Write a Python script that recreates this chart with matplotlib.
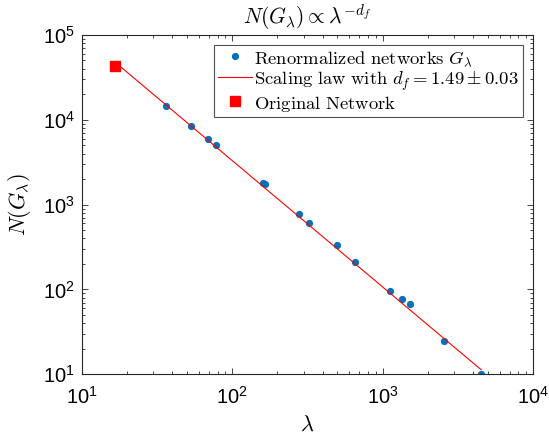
import numpy as np
import matplotlib
matplotlib.use('Agg')
import matplotlib.pyplot as plt
from matplotlib.ticker import LogLocator, FuncFormatter, NullFormatter

plt.rcParams['font.family'] = ['Liberation Sans', 'DejaVu Sans']
plt.rcParams['mathtext.fontset'] = 'custom'
plt.rcParams['mathtext.rm'] = 'Liberation Sans'
plt.rcParams['mathtext.it'] = 'Liberation Sans:italic'

# renormalized networks: box size lambda vs number of boxes N(G_lambda)
lam = [36.2, 53, 68.9, 77.9, 160, 165, 278, 324, 497, 655, 1119, 1346, 1521, 2558, 4520]
n_boxes = [14600, 8500, 5970, 5080, 1790, 1760, 783, 614, 338, 213, 97, 78, 67, 25, 10]

# original network
lam0 = [16.75]
n0 = [43200]

# fitted scaling law
d_f = 1.49
d_f_err = 0.03
log_prefactor = 6.50
lam_fit = np.array([lam0[0], lam[-1]])
n_fit = 10 ** log_prefactor * lam_fit ** (-d_f)

fig = plt.figure(figsize=(5.49, 4.37), dpi=100)
ax = fig.add_axes([0.1488, 0.1435, 0.8221, 0.7765])

ax.plot(lam, n_boxes, 'o', color='#0072BD', markersize=4.2, linestyle='none',
        label=r'$\mathrm{Renormalized\ networks}\ G_\lambda$')
ax.plot(lam_fit, n_fit, '-', color='red', linewidth=0.8,
        label=r'$\mathrm{Scaling\ law\ with}\ d_f = %.2f \pm %.2f$' % (d_f, d_f_err))
ax.plot(lam0, n0, 's', color='red', markersize=6.5, linestyle='none',
        label=r'$\mathrm{Original\ Network}$')

ax.set_xscale('log')
ax.set_yscale('log')
ax.set_xlim(10, 1e4)
ax.set_ylim(10, 1e5)

def pow_label(v, pos):
    return r'$10^{%d}$' % int(round(np.log10(v)))

for axis in (ax.xaxis, ax.yaxis):
    axis.set_major_locator(LogLocator(base=10, numticks=10))
    axis.set_minor_locator(LogLocator(base=10, subs=np.arange(2, 10), numticks=10))
    axis.set_major_formatter(FuncFormatter(pow_label))
    axis.set_minor_formatter(NullFormatter())

axis_col = '#262626'
for sp in ax.spines.values():
    sp.set_color(axis_col)
    sp.set_linewidth(0.8)
ax.tick_params(which='both', direction='in', top=True, right=True, colors=axis_col,
               labelcolor='black', width=0.6)
ax.tick_params(which='major', length=4.5, labelsize=14.5)
ax.tick_params(axis='x', which='major', pad=8)
ax.tick_params(axis='y', which='major', pad=5)
ax.tick_params(which='minor', length=2.5)

ax.set_xlabel(r'$\lambda$', fontsize=16, math_fontfamily='cm', labelpad=5)
ax.set_ylabel(r'$N(G_\lambda)$', fontsize=16, math_fontfamily='cm', labelpad=7)
ax.set_title(r'$N(G_\lambda) \propto \lambda^{-d_f}$', fontsize=15.5, math_fontfamily='cm', pad=8)

leg = ax.legend(loc='upper right', fontsize=13.4, frameon=True, fancybox=False,
                borderpad=0.2, labelspacing=0.05, handlelength=1.8, handletextpad=0.15,
                handleheight=1.0, borderaxespad=0.55, numpoints=1)
leg.get_frame().set_edgecolor(axis_col)
leg.get_frame().set_linewidth(0.8)
for t in leg.get_texts():
    t.set_math_fontfamily('cm')

fig.savefig('out.png', dpi=100)
